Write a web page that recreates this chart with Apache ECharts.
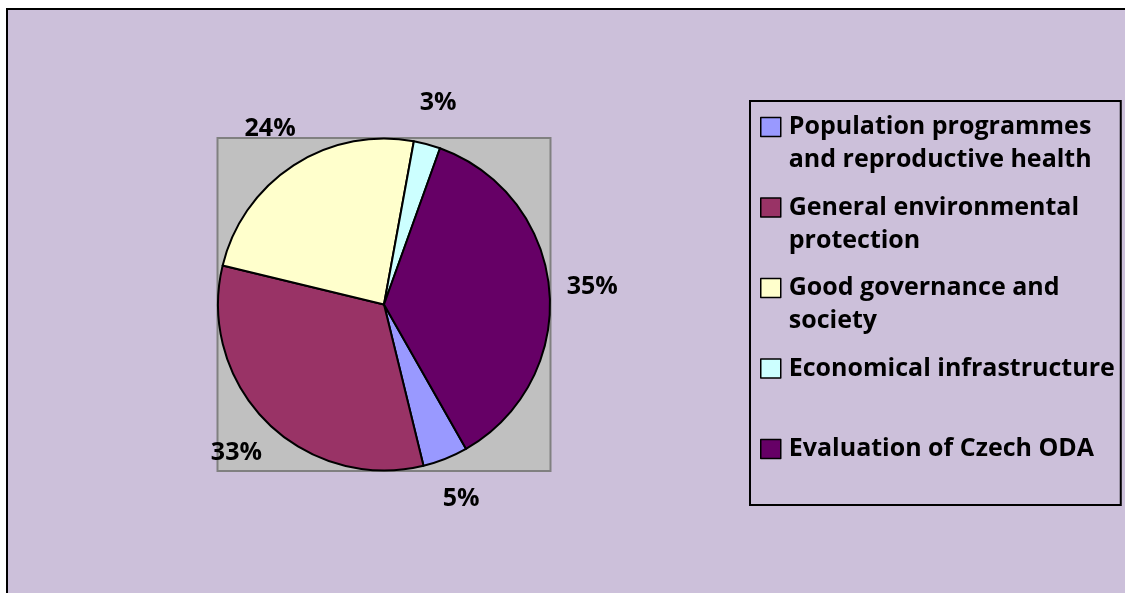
<!DOCTYPE html>
<html><head><meta charset="utf-8">
<script src="https://cdn.jsdelivr.net/npm/echarts@6/dist/echarts.min.js"></script>
<style>
html,body{margin:0;padding:0;background:#fff;overflow:hidden}
#frame{position:absolute;left:6px;top:8px;width:1117px;height:700px;border-left:2px solid #000;border-top:2px solid #000;background:#CCC0DA}
#chart{position:absolute;left:0;top:0;width:1126px;height:593px}
</style></head><body>
<div id="frame"></div><div id="chart"></div>
<script>
// Data
const categories = [
  'Population programmes and reproductive health',
  'General environmental protection',
  'Good governance and society',
  'Economical infrastructure',
  'Evaluation of Czech ODA'
];
const legendText = [
  'Population programmes\nand reproductive health',
  'General environmental\nprotection',
  'Good governance and\nsociety',
  'Economical infrastructure\n ',
  'Evaluation of Czech ODA\n '
];
const values = [4.4, 32.6, 24.1, 2.6, 36.3];
const percentLabels = ['5%', '33%', '24%', '3%', '35%'];
const colors = ['#9999FF', '#993366', '#FFFFCC', '#CCFFFF', '#660066'];

const CX = 384, CY = 304.5, R = 166;
const FONT = '"Open Sans"';

const chart = echarts.init(document.getElementById('chart'), null, {renderer: 'canvas'});
const pieData = categories.map((c, i) => ({name: c, value: values[i], itemStyle: {color: colors[i]}}));

chart.setOption({
  animation: false,
  backgroundColor: 'transparent',
  graphic: [{
    type: 'rect', z: -10, silent: true,
    shape: {x: CX - R - 0.5, y: CY - R - 0.5, width: 2 * R + 1, height: 2 * R + 1},
    style: {fill: '#C0C0C0', stroke: '#808080', lineWidth: 2}
  }],
  legend: {
    orient: 'vertical', left: 750, top: 101,
    padding: [-23.5, 6, 6.5, 10],
    itemWidth: 20, itemHeight: 19, itemGap: -18.5,
    borderColor: '#000', borderWidth: 2,
    icon: 'rect', selectedMode: false,
    data: categories,
    itemStyle: {borderColor: '#000', borderWidth: 1.5},
    // a leading empty line keeps each symbol beside the first text line
    formatter: name => '\n' + legendText[categories.indexOf(name)],
    textStyle: {fontFamily: FONT, fontWeight: 'bold', fontSize: 25, lineHeight: 33, color: '#000', padding: [0, 0, 0, 3]}
  },
  series: [{
    type: 'pie', center: [CX, CY], radius: R,
    startAngle: -60.4, clockwise: true,
    silent: true, label: {show: false}, labelLine: {show: false},
    itemStyle: {borderColor: '#000', borderWidth: 2},
    emphasis: {disabled: true},
    data: pieData
  }, {
    type: 'pie', center: [CX, CY], radius: [198, 214],
    startAngle: -60.4, clockwise: true, silent: true,
    itemStyle: {color: 'rgba(0,0,0,0)', borderWidth: 0},
    emphasis: {disabled: true},
    labelLine: {show: false},
    label: {
      show: true, position: 'inside',
      formatter: p => percentLabels[p.dataIndex],
      fontFamily: FONT, fontWeight: 'bold', fontSize: 25, color: '#000'
    },
    data: categories.map((c, i) => ({name: c, value: values[i]}))
  }]
});
</script>
</body></html>
